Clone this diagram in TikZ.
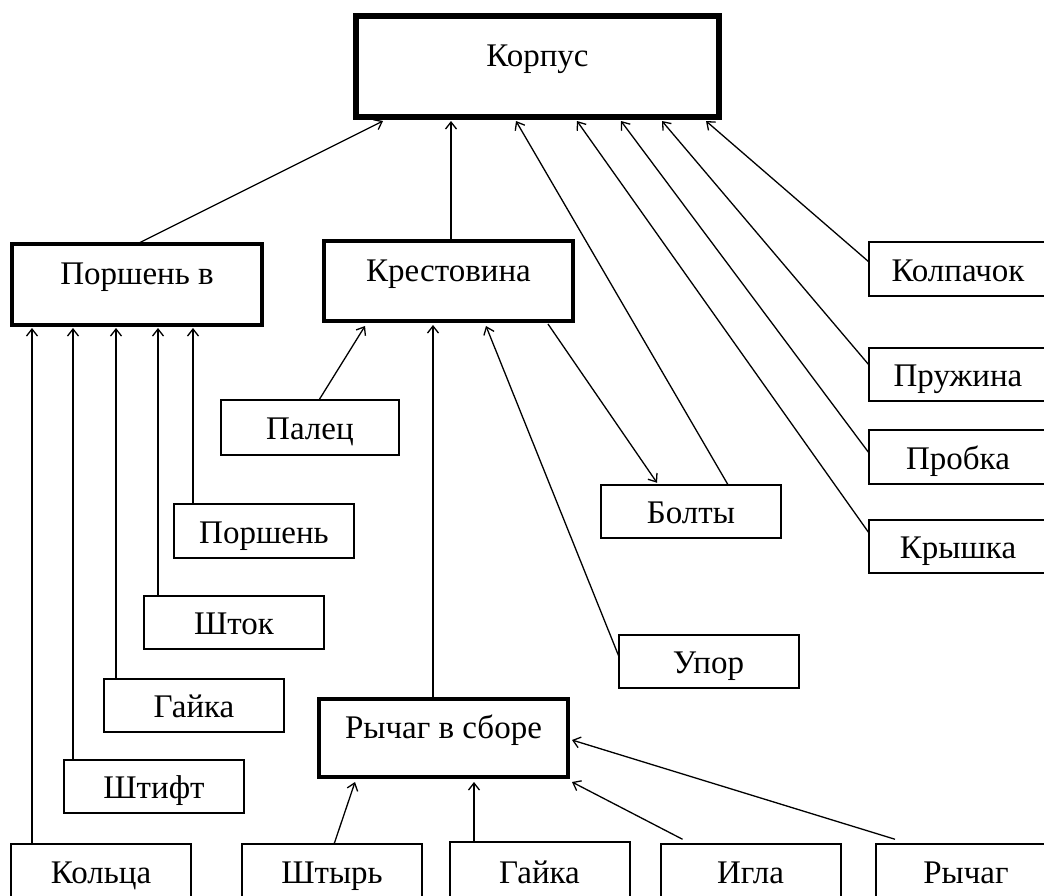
\documentclass[tikz,border=0pt]{standalone}
\usepackage{fontspec}
\setmainfont{Liberation Serif}
\usetikzlibrary{arrows.meta}
\begin{document}
\begin{tikzpicture}[x=0.5pt,y=-0.5pt,
  font=\fontsize{16.5pt}{19pt}\selectfont,
  pbox/.style={draw, line width=1pt, inner sep=0pt, outer sep=0pt, minimum width=90pt, minimum height=26.75pt, text height=1.2em, text depth=0pt},
  tbox/.style={draw, line width=2pt, inner sep=0pt, outer sep=0pt, text height=0.85em, text depth=0.85em},
  arr/.style={line width=0.65pt, -{Straight Barb[length=3.5pt,width=5.5pt]}}]
\path[use as bounding box, clip] (0,0) rectangle (1044,895);
\fill[white] (0,0) rectangle (1044,895);
% main boxes
\node[tbox, line width=3pt, minimum width=181.5pt, minimum height=50.5pt] (kp) at (537.5,66.5) {Корпус};
\node[tbox, minimum width=125pt, minimum height=40.5pt] (pv) at (137,284.5) {Поршень в};
\node[tbox, minimum width=124.5pt, minimum height=40pt] (kr) at (448.5,281) {Крестовина};
\node[tbox, minimum width=124.5pt, minimum height=39pt] (rs) at (443.5,738) {Рычаг в сборе};
% parts
\node[pbox, minimum width=89pt, minimum height=27.5pt] (pl) at (310,427.5) {Палец};
\node[pbox] (ps) at (264,531) {Поршень};
\node[pbox] (sh) at (234,622.5) {Шток};
\node[pbox] (gl) at (194,705.5) {Гайка};
\node[pbox] (sf) at (154,786.5) {Штифт};
\node[pbox] (ko) at (101,871) {Кольца};
\node[pbox] (st) at (332,871) {Штырь};
\node[pbox, minimum height=29pt] (gb) at (539.5,871) {Гайка};
\node[pbox] (ig) at (750.5,871) {Игла};
\node[pbox] (rb) at (966,871) {Рычаг};
\node[pbox] (bt) at (691,511.5) {Болты};
\node[pbox] (up) at (708.5,661.5) {Упор};
\node[pbox, minimum width=89pt] (kl) at (958,269) {Колпачок};
\node[pbox, minimum width=89pt] (pr) at (958,374.5) {Пружина};
\node[pbox, minimum width=89pt] (pb) at (958,457) {Пробка};
\node[pbox, minimum width=89pt] (kry) at (958,546.5) {Крышка};
% to Корпус
\draw[arr] (pv.north) -- ([shift={(-154.5,4)}]kp.south);
\draw[arr] ([shift={(2.5,0)}]kr.north) -- ([shift={(-86.5,4)}]kp.south);
\draw[arr] ([shift={(127,0)}]bt.north west) -- ([shift={(-21.5,4)}]kp.south);
\draw[arr] ([shift={(0,-13.5)}]kry.west) -- ([shift={(39.5,4)}]kp.south);
\draw[arr] ([shift={(0,-4)}]pb.west) -- ([shift={(83.5,4)}]kp.south);
\draw[arr] ([shift={(0,-9.5)}]pr.west) -- ([shift={(124.5,4)}]kp.south);
\draw[arr] ([shift={(0,-7)}]kl.west) -- ([shift={(168.5,4)}]kp.south);
% to Поршень в
\draw[arr] ([shift={(21,0)}]ko.north west) -- ([shift={(-105,3)}]pv.south);
\draw[arr] ([shift={(9,0)}]sf.north west) -- ([shift={(-64,3)}]pv.south);
\draw[arr] ([shift={(12,0)}]gl.north west) -- ([shift={(-21,3)}]pv.south);
\draw[arr] ([shift={(14,0)}]sh.north west) -- ([shift={(21,3)}]pv.south);
\draw[arr] ([shift={(19,0)}]ps.north west) -- ([shift={(56,3)}]pv.south);
% to Крестовина
\draw[arr] ([shift={(9,0)}]pl.north) -- ([shift={(-83.5,5)}]kr.south);
\draw[arr] ([shift={(-10.5,0)}]rs.north) -- ([shift={(-15.5,4)}]kr.south);
\draw[arr] ([shift={(0,-6)}]up.west) -- ([shift={(37.5,5)}]kr.south);
\draw[arr] ([shift={(99.5,3)}]kr.south) -- ([shift={(56,-2)}]bt.north west);
% to Рычаг в сборе
\draw[arr] ([shift={(2,0)}]st.north) -- ([shift={(-88.5,5)}]rs.south);
\draw[arr] ([shift={(24.5,0)}]gb.north west) -- ([shift={(30.5,5)}]rs.south);
\draw[arr] ([shift={(22,-5)}]ig.north west) -- ([shift={(4,5)}]rs.south east);
\draw[arr] ([shift={(19,-5)}]rb.north west) -- ([shift={(4,2)}]rs.east);
\end{tikzpicture}
\end{document}
